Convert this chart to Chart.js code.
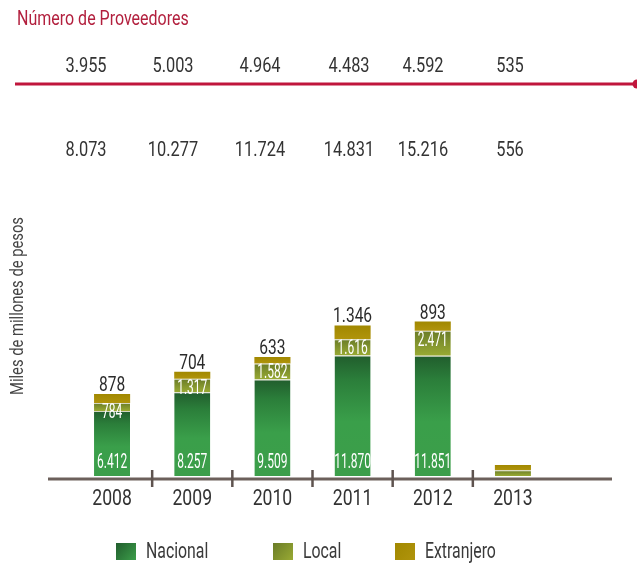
<!DOCTYPE html>
<html lang="es">
<head>
<meta charset="UTF-8"/>
<title>Proveedores</title>
<script src="https://cdn.jsdelivr.net/npm/chart.js@4.4.1/dist/chart.umd.min.js"></script>
<style>
    html, body { margin: 0; padding: 0; background: #fff; }
    #chart { display: block; }
</style>
</head>
<body>
<canvas id="chart" width="637" height="566"></canvas>
<script>
    // datos
    const years = ['2008', '2009', '2010', '2011', '2012', '2013'];
    const nacional = [6412, 8257, 9509, 11870, 11851, 0];
    const local = [784, 1317, 1582, 1616, 2471, 560];
    const extranjero = [878, 704, 633, 1346, 893, 530];
    const printed = [true, true, true, true, true, false]; // 2013 sin etiquetas
    const proveedores = [3955, 5003, 4964, 4483, 4592, 535];
    const totales = [8073, 10277, 11724, 14831, 15216, 556];

    const FONT = "Roboto, 'DejaVu Sans Condensed', sans-serif";
    const rowX = [86, 173, 260, 349, 423, 510];

    function fmt(n) {
        return String(n).replace(/\B(?=(\d{3})+(?!\d))/g, '.');
    }

    // texto condensado (escala horizontal)
    function drawText(c, str, x, y, o) {
        c.save();
        c.font = o.size + 'px ' + FONT;
        c.fillStyle = o.color;
        c.textAlign = o.align || 'center';
        c.textBaseline = o.baseline || 'middle';
        c.translate(x, y);
        if (o.rotate) c.rotate(o.rotate);
        c.scale(o.sx, 1);
        c.fillText(str, 0, 0);
        c.restore();
    }

    const series = [nacional, local, extranjero];
    const fills = [
        [[0, '#215d2d'], [0.2, '#2b7e3a'], [0.55, '#3a9f4a'], [1, '#3c9e4a']],
        [[0, '#6a7c28'], [1, '#99aa33']],
        [[0, '#a18800'], [1, '#b0940c']]
    ];

    // gradiente vertical por barra
    function barFill(stops) {
        const flat = stops[stops.length - 1][1];
        return (ctx) => {
            const chart = ctx.chart;
            const y = chart.scales.y;
            if (!y || ctx.type !== 'data') return flat;
            let base = 0;
            for (let d = 0; d < ctx.datasetIndex; d++) base += series[d][ctx.dataIndex] || 0;
            const v = series[ctx.datasetIndex][ctx.dataIndex] || 0;
            const top = y.getPixelForValue(base + v);
            const bottom = y.getPixelForValue(base);
            if (!isFinite(top) || !isFinite(bottom) || bottom - top < 1) return flat;
            const g = chart.ctx.createLinearGradient(0, top, 0, bottom);
            stops.forEach(s => g.addColorStop(s[0], s[1]));
            return g;
        };
    }

    const valueLabels = {
        id: 'valueLabels',
        afterDatasetsDraw(chart) {
            const c = chart.ctx;
            const mN = chart.getDatasetMeta(0), mL = chart.getDatasetMeta(1), mE = chart.getDatasetMeta(2);
            years.forEach((yr, i) => {
                if (!printed[i]) return;
                const n = mN.data[i], l = mL.data[i], e = mE.data[i];
                drawText(c, fmt(nacional[i]), n.x, n.base - 13, {size: 20, sx: 0.6, color: '#fff'});
                drawText(c, fmt(local[i]), l.x, l.y + 10, {size: 20, sx: 0.6, color: '#fff'});
                drawText(c, fmt(extranjero[i]), e.x, e.y - 3, {size: 21, sx: 0.74, color: '#2b2b2b', baseline: 'alphabetic'});
            });
        }
    };

    const decor = {
        id: 'decor',
        afterDraw(chart) {
            const c = chart.ctx;
            const {x, y} = chart.scales;
            // titulo
            drawText(c, 'Número de Proveedores', 17, 25, {size: 20, sx: 0.8, color: '#b21f3d', align: 'left', baseline: 'alphabetic'});
            // filas de numeros
            proveedores.forEach((v, i) => drawText(c, fmt(v), rowX[i], 67, {size: 21, sx: 0.78, color: '#333'}));
            totales.forEach((v, i) => drawText(c, fmt(v), rowX[i], 151, {size: 21, sx: 0.78, color: '#333'}));
            c.save();
            // linea roja
            c.strokeStyle = '#c0163c';
            c.fillStyle = '#c0163c';
            c.lineWidth = 3;
            c.beginPath(); c.moveTo(15, 84); c.lineTo(636, 84); c.stroke();
            c.beginPath(); c.arc(637, 84, 4.5, 0, Math.PI * 2); c.fill();
            // eje x
            const y0 = y.getPixelForValue(0) + 3;
            c.strokeStyle = '#6c605b';
            c.lineWidth = 3;
            c.beginPath(); c.moveTo(48, y0); c.lineTo(612, y0); c.stroke();
            c.strokeStyle = '#5e534f';
            c.lineWidth = 2.5;
            for (let i = 1; i < years.length; i++) {
                const px = (x.getPixelForValue(i - 1) + x.getPixelForValue(i)) / 2;
                c.beginPath(); c.moveTo(px, y0 - 9); c.lineTo(px, y0 + 8); c.stroke();
            }
            c.restore();
            // etiquetas de años
            years.forEach((yr, i) => drawText(c, yr, x.getPixelForValue(i), y0 + 20, {size: 22, sx: 0.8, color: '#333'}));
            // titulo eje y
            drawText(c, 'Miles de millones de pesos', 18, (y.top + y.bottom) / 2, {size: 18, sx: 0.82, color: '#444', rotate: -Math.PI / 2});
            // leyenda
            const legX = [116, 273, 395];
            chart.data.datasets.forEach((ds, i) => {
                const g = c.createLinearGradient(legX[i], 543, legX[i] + 20, 560);
                g.addColorStop(0, fills[i][0][1]);
                g.addColorStop(1, fills[i][fills[i].length - 1][1]);
                c.fillStyle = g;
                c.fillRect(legX[i], 543, 20, 17);
                drawText(c, ds.label, legX[i] + 30, 552, {size: 22, sx: 0.72, color: '#3a3a3a', align: 'left'});
            });
        }
    };

    const sepColor = '#d3d6c2';
    const chart = new Chart(document.getElementById('chart'), {
        type: 'bar',
        data: {
            labels: years,
            datasets: [{
                label: 'Nacional',
                data: nacional,
                backgroundColor: barFill(fills[0]),
                borderColor: sepColor,
                borderWidth: {top: 1, left: 0, right: 0, bottom: 0},
                borderSkipped: false
            }, {
                label: 'Local',
                data: local,
                backgroundColor: barFill(fills[1]),
                borderColor: sepColor,
                borderWidth: {top: 1, left: 0, right: 0, bottom: 0},
                borderSkipped: false
            }, {
                label: 'Extranjero',
                data: extranjero,
                backgroundColor: barFill(fills[2]),
                borderWidth: 0
            }]
        },
        options: {
            responsive: false,
            animation: false,
            events: [],
            layout: {padding: {top: 136, right: 84, bottom: 90, left: 72}},
            datasets: {bar: {barPercentage: 0.45, categoryPercentage: 1}},
            scales: {
                x: {display: false, stacked: true},
                y: {display: false, stacked: true, min: 0, max: 33500}
            },
            plugins: {legend: {display: false}, tooltip: {enabled: false}}
        },
        plugins: [valueLabels, decor]
    });
    chart.update();
</script>
</body>
</html>
